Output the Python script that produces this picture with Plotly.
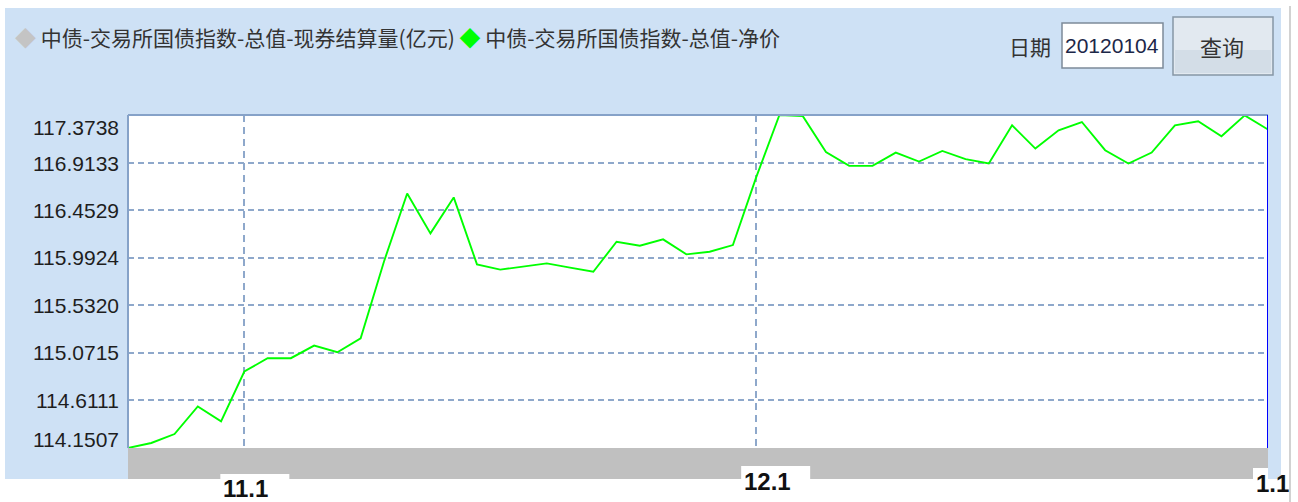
import plotly.graph_objects as go
import pandas as pd

# ---------------- data ----------------
dates = [d.strftime("%Y-%m-%d") for d in pd.bdate_range("2011-10-25", "2011-12-30")] + ["2012-01-04"]
net_price = [
    114.1507, 114.199, 114.286, 114.553, 114.408, 114.891, 115.020, 115.020, 115.142, 115.078,
    115.213, 115.954, 116.614, 116.228, 116.576, 115.928, 115.877, 115.905, 115.938, 115.896,
    115.857, 116.147, 116.108, 116.170, 116.025, 116.050, 116.115, 116.770, 117.3738, 117.364,
    117.016, 116.881, 116.881, 117.010, 116.923, 117.026, 116.946, 116.904, 117.274, 117.049,
    117.226, 117.306, 117.033, 116.904, 117.010, 117.274, 117.313, 117.168, 117.370, 117.233,
]
y_ticks = [114.1507, 114.6111, 115.0715, 115.5320, 115.9924, 116.4529, 116.9133, 117.3738]
y_tick_text = ["114.1507", "114.6111", "115.0715", "115.5320", "115.9924", "116.4529", "116.9133", "117.3738"]
x_tick_dates = ["2011-11-01", "2011-12-01", "2012-01-04"]
x_tick_text = ["11.1", "12.1", "1.1"]
series_names = ["中债-交易所国债指数-总值-现券结算量(亿元)", "中债-交易所国债指数-总值-净价"]
query_date = "20120104"

# ---------------- layout geometry (pixels) ----------------
W, H = 1298, 502
L, R, T, B = 128, 1268, 115, 448


def px(x):
    return (x - L) / (R - L)


def py(y):
    return (B - y) / (B - T)


PANEL = "#cee1f5"
GRID = "#8ea8cb"

fig = go.Figure()
fig.add_trace(go.Scatter(
    x=dates, y=net_price, mode="lines", name=series_names[1],
    line=dict(color="#00ff00", width=1.9), showlegend=False,
))

shapes = [
    dict(type="rect", xref="paper", yref="paper", x0=px(5), x1=px(1281), y0=py(479), y1=py(8),
         fillcolor=PANEL, line=dict(width=0), layer="below"),
    dict(type="rect", xref="paper", yref="paper", x0=0, x1=1, y0=0, y1=1,
         fillcolor="white", line=dict(width=0), layer="below"),
    dict(type="rect", xref="paper", yref="paper", x0=0, x1=1, y0=py(479), y1=0,
         fillcolor="#c0c0c0", line=dict(width=0), layer="below"),
    dict(type="line", xref="paper", yref="paper", x0=0, x1=1, y0=1, y1=1,
         line=dict(color="#86a2c8", width=2)),
    dict(type="line", xref="paper", yref="paper", x0=0, x1=0, y0=0, y1=1,
         line=dict(color="#86a2c8", width=2)),
    dict(type="line", xref="x", yref="paper", x0=x_tick_dates[2], x1=x_tick_dates[2], y0=0, y1=1,
         line=dict(color="#0000ff", width=2)),
    dict(type="line", xref="paper", yref="paper", x0=px(1290), x1=px(1290), y0=py(6), y1=py(502),
         line=dict(color="#d2d2d2", width=2)),
    # date input box
    dict(type="rect", xref="paper", yref="paper", x0=px(1062), x1=px(1163), y0=py(68), y1=py(23),
         fillcolor="white", line=dict(color="#7d8b99", width=1.5)),
    # query button
    dict(type="rect", xref="paper", yref="paper", x0=px(1173), x1=px(1273), y0=py(75), y1=py(17),
         fillcolor="#e2e9f0", line=dict(color="#8796a5", width=1.5)),
    dict(type="rect", xref="paper", yref="paper", x0=px(1175), x1=px(1271), y0=py(73), y1=py(50),
         fillcolor="#d3dde7", line=dict(width=0)),
]

annotations = []
# legend
annotations.append(dict(
    xref="paper", yref="paper", x=px(13), y=py(37), xanchor="left", yanchor="middle",
    showarrow=False,
    text=("<span style='color:#c4c4c4'>◆</span> " + series_names[0] +
          " <span style='color:#00ff00'>◆</span> " + series_names[1]),
    font=dict(family="Noto Sans CJK SC", size=21, color="#333333"),
))
# date label, input text, button text
annotations.append(dict(xref="paper", yref="paper", x=px(1053), y=py(46), xanchor="right", yanchor="middle",
                        showarrow=False, text="日期",
                        font=dict(family="Noto Sans CJK SC", size=21, color="#333333")))
annotations.append(dict(xref="paper", yref="paper", x=px(1112), y=py(46), xanchor="center", yanchor="middle",
                        showarrow=False, text=query_date,
                        font=dict(family="Liberation Sans", size=21, color="#1c2748")))
annotations.append(dict(xref="paper", yref="paper", x=px(1222), y=py(46), xanchor="center", yanchor="middle",
                        showarrow=False, text="查询",
                        font=dict(family="Noto Sans CJK SC", size=22, color="#333333")))

# y-axis labels (top/bottom nudged inside the frame)
y_label_shift = [9, 0, 0, 0, 0, 0, -1, -12]
for v, t, s in zip(y_ticks, y_tick_text, y_label_shift):
    annotations.append(dict(
        xref="paper", yref="y", x=px(121), y=v, yshift=s, xanchor="right", yanchor="middle",
        showarrow=False, text=t,
        font=dict(family="Liberation Sans", size=21, color="#1e1e1e"),
    ))

# x-axis labels on white boxes
x_label_xshift = [-23, -14, -14]
x_box_top = [474, 466, 468]
x_text_mid = [488, 481, 483]
for d, t, xs, top, mid in zip(x_tick_dates, x_tick_text, x_label_xshift, x_box_top, x_text_mid):
    shapes.append(dict(
        type="rect", xref="x", xsizemode="pixel", xanchor=d, x0=xs - 1, x1=xs + 68,
        yref="paper", y0=py(502), y1=py(top), fillcolor="white", line=dict(width=0), layer="above",
    ))
    annotations.append(dict(
        xref="x", yref="paper", x=d, y=py(mid), xshift=xs, xanchor="left", yanchor="middle",
        showarrow=False, text="<b>" + t + "</b>",
        font=dict(family="Liberation Sans", size=24, color="#111111"),
    ))

fig.update_layout(
    width=W, height=H,
    margin=dict(l=L, r=W - R, t=T, b=H - B, pad=0),
    paper_bgcolor="white", plot_bgcolor="white",
    showlegend=False,
    shapes=shapes, annotations=annotations,
    xaxis=dict(
        type="category", range=[0, len(dates) - 1],
        tickvals=x_tick_dates[:2], showticklabels=False, ticks="",
        showgrid=True, gridcolor=GRID, gridwidth=1.5, griddash="7px,5px",
        zeroline=False, showline=False, fixedrange=True,
    ),
    yaxis=dict(
        range=[y_ticks[0], y_ticks[-1]], tickvals=y_ticks, showticklabels=False, ticks="",
        showgrid=True, gridcolor=GRID, gridwidth=1.5, griddash="6px,4px",
        zeroline=False, showline=False, fixedrange=True,
    ),
)

fig.write_html("out.html", config={"displayModeBar": False},
               post_script="document.body.style.margin='0';document.body.style.overflow='hidden';")
